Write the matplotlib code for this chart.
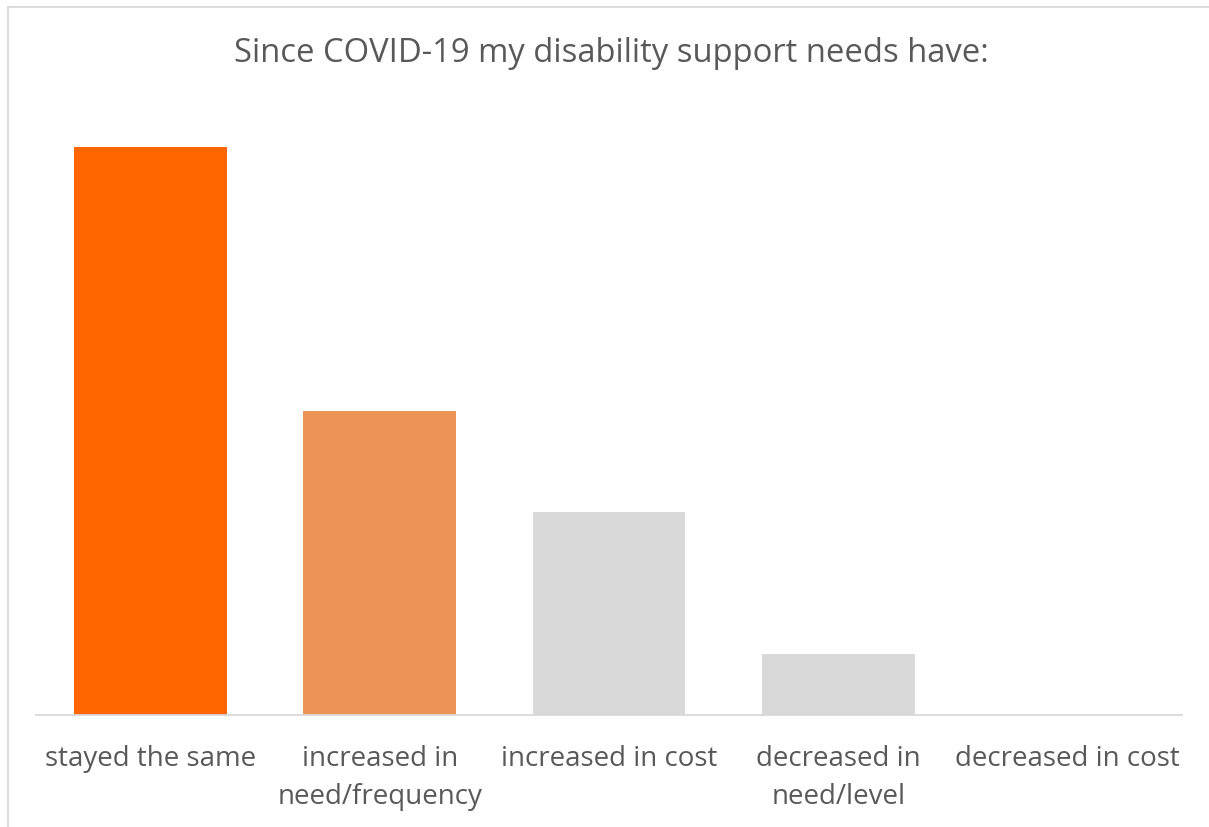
import matplotlib
matplotlib.use("Agg")
import matplotlib.pyplot as plt
from matplotlib.lines import Line2D

categories = ["stayed the same", "increased in\nneed/frequency", "increased in cost",
              "decreased in\nneed/level", "decreased in cost"]
values = [56, 30, 20, 6, 0]
colors = ["#FF6600", "#EC9455", "#D9D9D9", "#D9D9D9", "#D9D9D9"]
title = "Since COVID-19 my disability support needs have:"

W, H = 1209, 828
fig = plt.figure(figsize=(W / 100, H / 100), dpi=100)
fig.patch.set_facecolor("white")

# chart area border (top and left edges)
bx, by = 7.5 / W, 1 - 7.5 / H
fig.lines.append(Line2D([bx, 1.0], [by, by], transform=fig.transFigure,
                        color="#D9D9D9", linewidth=1.3))
fig.lines.append(Line2D([bx, bx], [by, 0.0], transform=fig.transFigure,
                        color="#D9D9D9", linewidth=1.3))

ax = fig.add_axes([36 / W, (H - 716) / H, 1146 / W, 608.6 / H])
x = range(len(categories))
ax.bar(x, values, width=0.667, color=colors)
ax.set_xlim(-0.5, len(categories) - 0.5)
ax.set_ylim(0, 60)
ax.set_yticks([])
ax.set_xticks(list(x))
ax.set_xticklabels(categories, fontsize=20, color="#595959", family="Open Sans", linespacing=1.45)
ax.tick_params(axis="x", length=0, pad=21)
for s in ["top", "right", "left"]:
    ax.spines[s].set_visible(False)
ax.spines["bottom"].set_color("#D9D9D9")
ax.spines["bottom"].set_linewidth(1.3)

fig.text(611 / W, 1 - 54 / H, title, ha="center", va="center", fontsize=23.6,
         color="#595959", family="Open Sans")

fig.savefig("out.png", dpi=100)
